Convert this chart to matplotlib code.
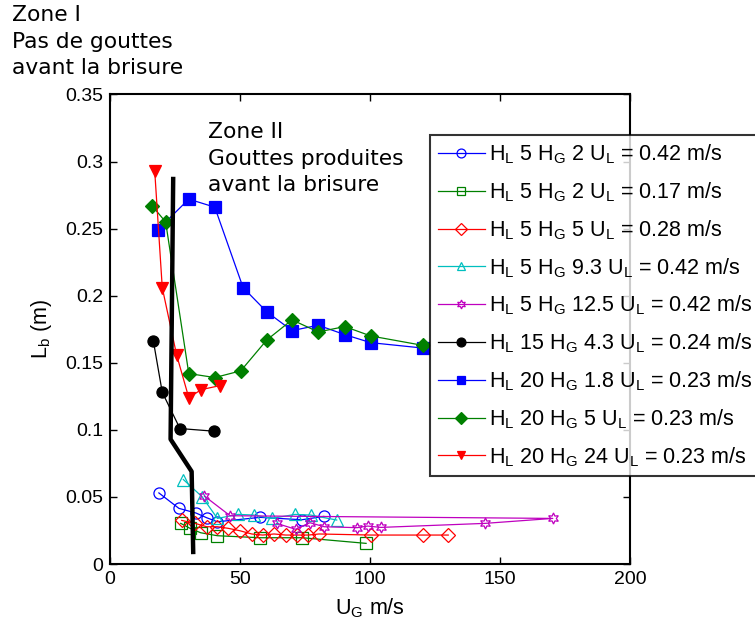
import matplotlib
matplotlib.use('Agg')
import matplotlib.pyplot as plt

# Data (U_G in m/s, L_b in m)
x_hl5_hg2_042 = [18.8, 26.5, 33.1, 37.2, 41.3, 57.8, 73.8, 82.2]
y_hl5_hg2_042 = [0.053, 0.0415, 0.038, 0.0345, 0.0315, 0.0348, 0.0330, 0.0355]

x_hl5_hg2_017 = [27.2, 30.8, 34.9, 41.3, 57.7, 74.0, 98.5]
y_hl5_hg2_017 = [0.0303, 0.0266, 0.0233, 0.0211, 0.0196, 0.0196, 0.0154]

x_hl5_hg5 = [27.6, 32.7, 37.2, 41.3, 45.5, 50.0, 54.5, 58.7, 63.1, 67.6, 71.8, 76.3, 80.4, 100.4, 120.3, 130.1]
y_hl5_hg5 = [0.0325, 0.0303, 0.0278, 0.0278, 0.0266, 0.0248, 0.0224, 0.0216, 0.0224, 0.0216,
             0.0216, 0.0216, 0.0224, 0.0216, 0.0216, 0.0216]

x_hl5_hg93 = [28.2, 35.5, 41.3, 49.3, 55.4, 62.2, 71.2, 77.2, 87.2]
y_hl5_hg93 = [0.063, 0.050, 0.034, 0.037, 0.0365, 0.034, 0.037, 0.0365, 0.0328]

x_hl5_hg125 = [36.3, 46.2, 170.3, 144.2, 104.2, 99.1, 95.1, 82.4, 76.9, 71.4, 64.1]
y_hl5_hg125 = [0.0507, 0.036, 0.034, 0.0303, 0.0273, 0.0283, 0.0271, 0.0278, 0.0308, 0.0259, 0.0303]

x_hl15_hg43 = [16.7, 20.1, 26.9, 40.1]
y_hl15_hg43 = [0.166, 0.128, 0.101, 0.099]

x_hl20_hg18 = [18.3, 30.3, 40.3, 51.2, 60.3, 70.0, 80.1, 90.3, 100.3, 120.3]
y_hl20_hg18 = [0.249, 0.272, 0.266, 0.206, 0.188, 0.174, 0.178, 0.171, 0.165, 0.161]

x_hl20_hg5 = [16.2, 21.4, 30.3, 40.3, 50.3, 60.3, 70.0, 80.1, 90.3, 100.3, 120.3]
y_hl20_hg5 = [0.267, 0.255, 0.142, 0.139, 0.144, 0.167, 0.182, 0.173, 0.177, 0.170, 0.163]

x_hl20_hg24 = [17.2, 20.1, 25.6, 30.3, 35.1, 42.3]
y_hl20_hg24 = [0.293, 0.206, 0.156, 0.124, 0.130, 0.133]

# zone boundary
x_zone = [24.3, 23.3, 31.4, 32.0]
y_zone = [0.287, 0.093, 0.069, 0.009]

labels = [
    r'H$_\mathrm{L}$ 5 H$_\mathrm{G}$ 2 U$_\mathrm{L}$ = 0.42 m/s',
    r'H$_\mathrm{L}$ 5 H$_\mathrm{G}$ 2 U$_\mathrm{L}$ = 0.17 m/s',
    r'H$_\mathrm{L}$ 5 H$_\mathrm{G}$ 5 U$_\mathrm{L}$ = 0.28 m/s',
    r'H$_\mathrm{L}$ 5 H$_\mathrm{G}$ 9.3 U$_\mathrm{L}$ = 0.42 m/s',
    r'H$_\mathrm{L}$ 5 H$_\mathrm{G}$ 12.5 U$_\mathrm{L}$ = 0.42 m/s',
    r'H$_\mathrm{L}$ 15 H$_\mathrm{G}$ 4.3 U$_\mathrm{L}$ = 0.24 m/s',
    r'H$_\mathrm{L}$ 20 H$_\mathrm{G}$ 1.8 U$_\mathrm{L}$ = 0.23 m/s',
    r'H$_\mathrm{L}$ 20 H$_\mathrm{G}$ 5 U$_\mathrm{L}$ = 0.23 m/s',
    r'H$_\mathrm{L}$ 20 H$_\mathrm{G}$ 24 U$_\mathrm{L}$ = 0.23 m/s',
]

plt.rcParams['font.family'] = ['Liberation Sans', 'DejaVu Sans']
plt.rcParams['mathtext.fontset'] = 'custom'
plt.rcParams['mathtext.rm'] = 'Liberation Sans'

fig = plt.figure(figsize=(7.55, 6.22), dpi=100)
ax = fig.add_axes([0.1457, 0.0932, 0.6887, 0.7549])

hexagram = (6, 1, 0)
series = [
    (x_hl5_hg2_042, y_hl5_hg2_042, 'b', 'o', False),
    (x_hl5_hg2_017, y_hl5_hg2_017, 'g', 's', False),
    (x_hl5_hg5, y_hl5_hg5, 'r', 'D', False),
    (x_hl5_hg93, y_hl5_hg93, 'c', '^', False),
    (x_hl5_hg125, y_hl5_hg125, 'm', hexagram, False),
    (x_hl15_hg43, y_hl15_hg43, 'k', 'o', True),
    (x_hl20_hg18, y_hl20_hg18, 'b', 's', True),
    (x_hl20_hg5, y_hl20_hg5, 'g', 'D', True),
    (x_hl20_hg24, y_hl20_hg24, 'r', 'v', True),
]
handles = []
for (xs, ys, c, m, filled), lab in zip(series, labels):
    ms = 8
    if m == 'D':
        ms = 7.5
    h, = ax.plot(xs, ys, color=c, marker=m, lw=0.9, ms=ms,
                 mfc=c if filled else 'none', mec=c, mew=0.9, label=lab)
    handles.append(h)

ax.plot(x_zone, y_zone, color='k', lw=3.2)

ax.set_xlim(0, 200)
ax.set_ylim(0, 0.35)
ax.set_xticks([0, 50, 100, 150, 200])
ax.set_yticks([0, 0.05, 0.1, 0.15, 0.2, 0.25, 0.3, 0.35])
ax.set_yticklabels(['0', '0.05', '0.1', '0.15', '0.2', '0.25', '0.3', '0.35'])
ax.tick_params(direction='in', top=True, right=True, labelsize=14, length=5, width=1, pad=5)
for sp in ax.spines.values():
    sp.set_linewidth(1.5)

ax.set_xlabel(r'U$_\mathrm{G}$ m/s', fontsize=15.5, labelpad=6)
ax.set_ylabel(r'L$_\mathrm{b}$ (m)', fontsize=15.5, labelpad=8)

ax.text(37.7, 0.3295, 'Zone II\nGouttes produites\navant la brisure', fontsize=15.7,
        family='DejaVu Sans', va='top', ha='left', linespacing=1.42)
fig.text(12 / 755, 1 - 5 / 622, 'Zone I\nPas de gouttes\navant la brisure', fontsize=15.7,
         family='DejaVu Sans', va='top', ha='left', linespacing=1.42)

leg = ax.legend(handles=handles, loc='upper left', bbox_to_anchor=(430 / 755, 1 - 135 / 622),
                bbox_transform=fig.transFigure, fontsize=15.5, frameon=True, fancybox=False,
                borderaxespad=0, borderpad=0.35, labelspacing=0.66, handlelength=2.2,
                handletextpad=0.2, markerscale=0.8)
leg.get_frame().set_edgecolor('k')
leg.get_frame().set_linewidth(1.5)
leg.set_clip_on(False)

fig.savefig('out.png', dpi=100)
